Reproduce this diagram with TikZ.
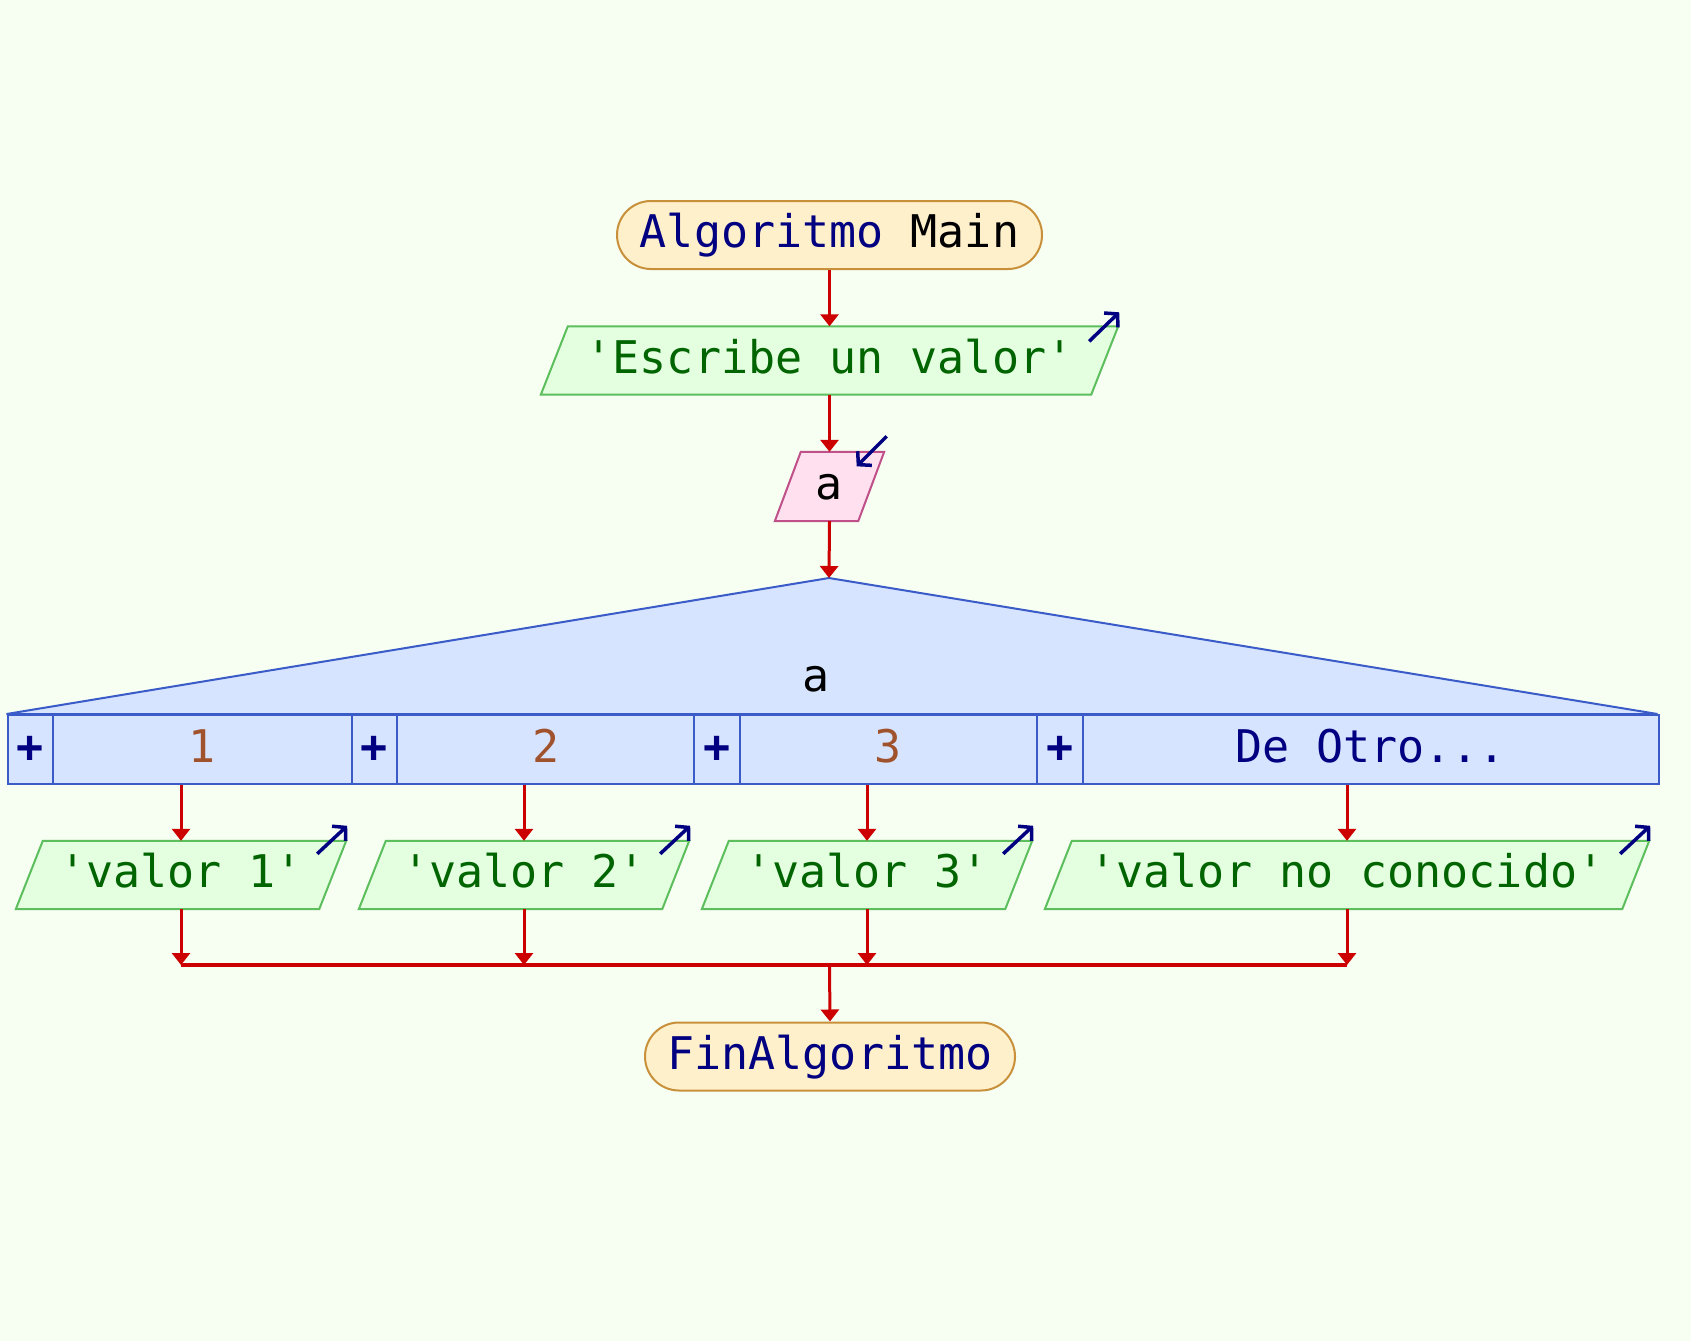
\documentclass[tikz,border=0pt]{standalone}
\usepackage{fontspec}
\setmainfont{DejaVu Sans Mono}
\usetikzlibrary{arrows.meta,calc}
\pgfdeclarelayer{back}\pgfdeclarelayer{mid}
\pgfsetlayers{back,mid,main}
\definecolor{pagebg}{HTML}{F6FFF2}
\definecolor{termfill}{HTML}{FFF0CC}
\definecolor{termdraw}{HTML}{C8903A}
\definecolor{outfill}{HTML}{E4FFE0}
\definecolor{outdraw}{HTML}{5CBE5C}
\definecolor{outtext}{HTML}{006400}
\definecolor{infill}{HTML}{FFE0EE}
\definecolor{indraw}{HTML}{C0508A}
\definecolor{casefill}{HTML}{D6E4FF}
\definecolor{casedraw}{HTML}{3A5BC8}
\definecolor{navyc}{HTML}{000080}
\definecolor{flowred}{HTML}{CC0000}
\definecolor{numc}{HTML}{A0522D}
\newcommand\slantbox[4]{%
  \begin{pgfonlayer}{mid}
  \draw[line width=2pt, fill=#3, draw=#4]
    ($(#1.north west)+(#2,0)$) -- ($(#1.north east)+(#2,0)$) --
    ($(#1.south east)-(#2,0)$) -- ($(#1.south west)-(#2,0)$) -- cycle;
  \end{pgfonlayer}}
\newcommand\q{\textquotesingle}
\begin{document}
\begin{tikzpicture}[x=1pt,y=-1pt,
  font=\fontsize{45}{54}\selectfont,
  every node/.style={text height=34pt, text depth=9pt},
  term/.style={draw=termdraw, fill=termfill, line width=2pt, rounded corners=34pt,
    minimum height=68pt, inner sep=0pt, text=navyc},
  slab/.style={minimum height=68pt, inner sep=0pt},
  outslab/.style={slab, text=outtext},
  flow/.style={draw=flowred, line width=3pt, -{Triangle[length=12pt,width=18pt]}},
  icon/.style={draw=navyc, line width=3.5pt, -{Straight Barb[length=9pt,width=20pt]}},
  cell/.style={draw=casedraw, fill=casefill, line width=2pt, minimum height=69pt,
    inner sep=0pt, anchor=north west},
  pluscell/.style={cell, minimum width=45.3pt, text=navyc, font=\fontsize{45}{54}\selectfont\bfseries},
]
\begin{pgfonlayer}{back}
\fill[pagebg] (0,0) rectangle (1691,1341);
\end{pgfonlayer}
\useasboundingbox (0,0) rectangle (1691,1341);

% start
\node[term, minimum width=425pt] (start) at (829.5,235) {Algoritmo \textcolor{black}{Main}};

% output 'Escribe un valor'
\node[outslab, minimum width=550pt] (esc) at (829.5,360.5) {\q Escribe un valor\q};
\slantbox{esc}{13.5}{outfill}{outdraw}
\draw[icon] ($(esc.north east)+(-15.5,15)$) -- ++(30,-29);

% input a
\node[slab, minimum width=83pt, minimum height=69pt] (inp) at (829.5,486.5) {a};
\slantbox{inp}{13}{infill}{indraw}
\draw[icon] ($(inp.north east)+(15.5,-15.5)$) -- ++(-30,30);

% case
\coordinate (apex) at (829,578);
\begin{pgfonlayer}{mid}
\draw[line width=2pt, draw=casedraw, fill=casefill] (6.5,714) -- (apex) -- (1657.5,714) -- cycle;
\end{pgfonlayer}
\node (caseq) at (816,679) {a};

\node[pluscell] (p1) at (6.5,714) {+};
\node[cell, minimum width=298.7pt, text=numc] (l1) at (51.8,714) {1};
\node[pluscell] (p2) at (350.5,714) {+};
\node[cell, minimum width=297.6pt, text=numc] (l2) at (395.8,714) {2};
\node[pluscell] (p3) at (693.4,714) {+};
\node[cell, minimum width=297.6pt, text=numc] (l3) at (738.7,714) {3};
\node[pluscell] (p4) at (1036.3,714) {+};
\node[cell, minimum width=575.9pt, text=navyc] (l4) at (1081.6,714) {De Otro...};

% branch outputs
\node[outslab, minimum width=303pt] (o1) at (181,875) {\q valor 1\q};
\node[outslab, minimum width=303pt] (o2) at (524,875) {\q valor 2\q};
\node[outslab, minimum width=303pt] (o3) at (867,875) {\q valor 3\q};
\node[outslab, minimum width=577pt] (o4) at (1347,875) {\q valor no conocido\q};
\foreach \o in {o1,o2,o3,o4}{
  \slantbox{\o}{13.5}{outfill}{outdraw}
  \draw[icon] ($(\o.north east)+(-15.5,13)$) -- ++(30,-28);
}

% end
\node[term, minimum width=370pt] (fin) at (830,1056.5) {FinAlgoritmo};

% connectors
\draw[flow] (start.south) -- (esc.north);
\draw[flow] (esc.south) -- (inp.north);
\draw[flow] (inp.south) -- (apex);
\draw[flow] (l1.south -| o1.north) -- (o1.north);
\draw[flow] (l2.south -| o2.north) -- (o2.north);
\draw[flow] (l3.south -| o3.north) -- (o3.north);
\draw[flow] (l4.south -| o4.north) -- (o4.north);

\coordinate (merge) at (829.5,965);
\foreach \o in {o1,o2,o3,o4}{
  \draw[flow] (\o.south) -- (\o.south |- merge);
}
\draw[draw=flowred, line width=4pt] (o1.south |- merge) -- (o4.south |- merge);
\draw[flow] (merge) -- (fin.north);
\end{tikzpicture}
\end{document}
